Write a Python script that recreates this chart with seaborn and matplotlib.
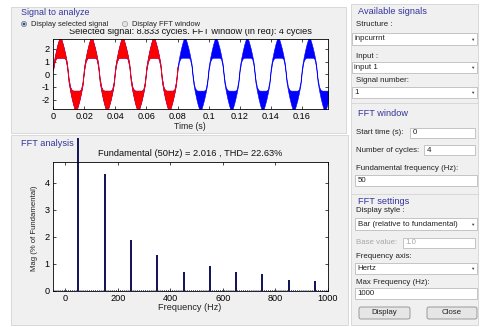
import numpy as np
import matplotlib
matplotlib.use("Agg")
import matplotlib.pyplot as plt
import seaborn as sns
from matplotlib.patches import Rectangle, Circle, FancyBboxPatch
from matplotlib.transforms import Bbox, TransformedBbox

# ---------------- data ----------------
# one measured cycle (1 ms steps) of the current band envelope, read off the picture
cycle_upper = [0.6, 1.3, 1.9, 2.4, 2.8, 2.9, 2.5, 2.05, 1.5, 0.85,
               -0.3, -1.0, -1.25, -1.3, -1.3, -1.3, -1.3, -1.3, -1.2, -0.6]
cycle_lower = [0.3, 1.0, 1.25, 1.3, 1.3, 1.3, 1.3, 1.3, 1.2, 0.6,
               -0.6, -1.3, -1.9, -2.4, -2.8, -2.9, -2.5, -2.05, -1.5, -0.85]
sample_step = 0.001
n_samples = 178            # 0 ... 0.177 s
fft_window_end = 0.08      # 4 cycles shown in red
signal_end = 0.1767        # 8.833 cycles

harm_freq = [50, 150, 250, 350, 450, 550, 650, 750, 850, 950]
harm_mag = [100, 4.32, 1.88, 1.33, 0.69, 0.94, 0.70, 0.63, 0.41, 0.37]

time_ticks = [0, 0.02, 0.04, 0.06, 0.08, 0.1, 0.12, 0.14, 0.16]
time_ticklabels = ["0", "0.02", "0.04", "0.06", "0.08", "0.1", "0.12", "0.14", "0.16"]
sig_yticks = [-2, -1, 0, 1, 2]
freq_ticks = [0, 200, 400, 600, 800, 1000]
mag_ticks = [0, 1, 2, 3, 4]

title_top = "Selected signal: 8.833 cycles. FFT window (in red): 4 cycles"
title_fft = "Fundamental (50Hz) = 2.016 , THD= 22.63%"

# ---------------- style ----------------
sns.set_theme(style="white")
plt.rcParams['font.family'] = ['Liberation Sans', 'DejaVu Sans']
plt.rcParams['axes.unicode_minus'] = False

W, H = 480, 327
fig = plt.figure(figsize=(W / 100, H / 100), dpi=100, facecolor="white")

bg = fig.add_axes([0, 0, 1, 1], zorder=0)
bg.set_xlim(0, W)
bg.set_ylim(H, 0)
bg.axis("off")

PANEL = "#f0f0f0"
PEDGE = "#d4d4d4"
TITLEC = "#34349c"
TXT = "#222222"
RFS = 5.7

def rect(x0, y0, x1, y1, fc=PANEL, ec=PEDGE, lw=0.6, z=1):
    bg.add_patch(Rectangle((x0, y0), x1 - x0, y1 - y0, facecolor=fc,
                           edgecolor=ec, linewidth=lw, zorder=z))

def txt(x, y, s, fs=RFS, c=TXT, ha="left", z=5, **kw):
    bg.text(x, y, s, fontsize=fs, color=c, ha=ha, va="center", zorder=z, **kw)

# panels
rect(11, 7, 346, 133)
rect(11, 135, 348, 325)
rect(351, 4, 478, 325)
bg.plot([351, 478], [103, 103], color=PEDGE, lw=0.6, zorder=2)
bg.plot([351, 478], [194, 194], color=PEDGE, lw=0.6, zorder=2)

# top panel texts
txt(21, 12.5, "Signal to analyze", fs=6.4, c=TITLEC)
txt(190, 31.2, title_top, fs=6.6, ha="center", c="#111111", z=3)
rect(12, 18, 345, 29.2, fc=PANEL, ec="none", lw=0, z=4)
bg.add_patch(Circle((24, 24), 2.6, facecolor="#b8c4d8", edgecolor="#6a7a99", lw=0.5, zorder=6))
bg.add_patch(Circle((24, 24), 1.1, facecolor="#2a3a66", edgecolor="none", zorder=7))
txt(31, 24, "Display selected signal", fs=5.4)
bg.add_patch(Circle((125, 24), 2.6, facecolor="#e4e4e4", edgecolor="#9a9a9a", lw=0.5, zorder=6))
txt(132, 24, "Display FFT window", fs=5.4)
txt(190, 126.5, "Time (s)", fs=6.3, ha="center")

# FFT panel texts
txt(21, 143, "FFT analysis", fs=6.6, c=TITLEC)
txt(190, 154, title_fft, fs=6.7, ha="center", c="#111111")
txt(190, 307.5, "Frequency (Hz)", fs=6.6, ha="center")
txt(35, 228, "Mag (% of Fundamental)", fs=5.6, ha="center", rotation=90)

# right panel widgets
def box(x0, y0, x1, y1, s, dropdown=False, gray=False):
    rect(x0, y0, x1, y1, fc="white", ec="#b0b0b0", lw=0.5, z=3)
    txt(x0 + 2.5, (y0 + y1) / 2, s, c="#a8a8a8" if gray else TXT)
    if dropdown:
        txt(x1 - 5, (y0 + y1) / 2 + 0.5, "▼", fs=3.2, c="#444444", ha="center")

def button(x0, y0, x1, y1, s):
    bg.add_patch(FancyBboxPatch((x0, y0), x1 - x0, y1 - y0,
                                boxstyle="round,pad=0,rounding_size=2",
                                facecolor="#e6e6e6", edgecolor="#8c8c8c",
                                lw=0.6, zorder=3))
    txt((x0 + x1) / 2, (y0 + y1) / 2, s, ha="center")

txt(358, 12, "Available signals", fs=6.6, c=TITLEC)
txt(356, 25, "Structure :")
box(352, 33, 477, 45, "inpcurrnt", dropdown=True)
txt(356, 56, "Input :")
box(352, 62, 477, 73, "input 1", dropdown=True)
txt(356, 81, "Signal number:")
box(352, 87, 477, 98, "1", dropdown=True)

txt(358, 113, "FFT window", fs=6.6, c=TITLEC)
txt(356, 133, "Start time (s):")
box(410, 128, 475, 138, "0")
txt(356, 150, "Number of cycles:")
box(424, 145, 475, 155, "4")
txt(356, 168, "Fundamental frequency (Hz):")
box(355, 175, 477, 186, "50")

txt(358, 201, "FFT settings", fs=6.6, c=TITLEC)
txt(356, 211, "Display style :")
box(355, 218, 477, 230, "Bar (relative to fundamental)", dropdown=True)
txt(356, 243, "Base value:", c="#a8a8a8")
box(403, 238, 475, 248, "1.0", gray=True)
txt(356, 257, "Frequency axis:")
box(355, 263, 477, 274, "Hertz", dropdown=True)
txt(356, 282, "Max Frequency (Hz):")
box(355, 288, 477, 299, "1000")
button(359, 307, 410, 319, "Display")
button(427, 307, 477, 319, "Close")

def style_axes(ax):
    ax.set_facecolor("white")
    for sp in ax.spines.values():
        sp.set_visible(True)
        sp.set_color("black")
        sp.set_linewidth(0.6)
    ax.tick_params(bottom=True, top=True, left=True, right=True,
                   labelbottom=True, labelleft=True, labeltop=False, labelright=False,
                   direction="in", length=2.5, width=0.5, labelsize=6.6,
                   pad=2.5, colors="black")
    ax.grid(False)
    ax.set_xlabel("")
    ax.set_ylabel("")

# ---------------- top signal axes ----------------
ax1 = fig.add_axes([53 / W, 1 - 109 / H, 275 / W, 70 / H], zorder=2)
t = np.arange(n_samples) * sample_step
reps = int(np.ceil(n_samples / len(cycle_upper)))
upper = np.tile(cycle_upper, reps)[:n_samples]
lower = np.tile(cycle_lower, reps)[:n_samples]
ax1.fill_between(t, lower, upper, color="#0000ff", lw=0.4, edgecolor="#0000ff")
m = t <= fft_window_end + 1e-9
ax1.fill_between(t[m], lower[m], upper[m], color="#ff0000", lw=0.4, edgecolor="#ff0000")
ax1.set_xlim(0, signal_end)
ax1.set_ylim(-2.75, 2.78)
ax1.set_xticks(time_ticks)
ax1.set_xticklabels(time_ticklabels)
ax1.set_yticks(sig_yticks)
ax1.set_yticklabels([str(v) for v in sig_yticks])
style_axes(ax1)

# ---------------- FFT bar axes ----------------
ax2 = fig.add_axes([53 / W, 1 - 291 / H, 275 / W, 129 / H], zorder=2)
sns.barplot(x=harm_freq, y=harm_mag, native_scale=True, width=0.075,
            color="#16165a", saturation=1, errorbar=None, linewidth=0, ax=ax2)
clip = TransformedBbox(Bbox([[53 / W, 0], [328 / W, 1 - 138 / H]]), fig.transFigure)
for p in ax2.patches:
    p.set_clip_box(clip)
ax2.axhline(0.03, color="#16165a", lw=0.6, ls=(0, (1, 1.5)), zorder=1)
ax2.set_xlim(-47, 1000)
ax2.set_ylim(0, 4.77)
ax2.set_xticks(freq_ticks)
ax2.set_xticklabels([str(v) for v in freq_ticks])
ax2.set_yticks(mag_ticks)
ax2.set_yticklabels([str(v) for v in mag_ticks])
style_axes(ax2)

fig.savefig("out.png", dpi=100, facecolor="white")
